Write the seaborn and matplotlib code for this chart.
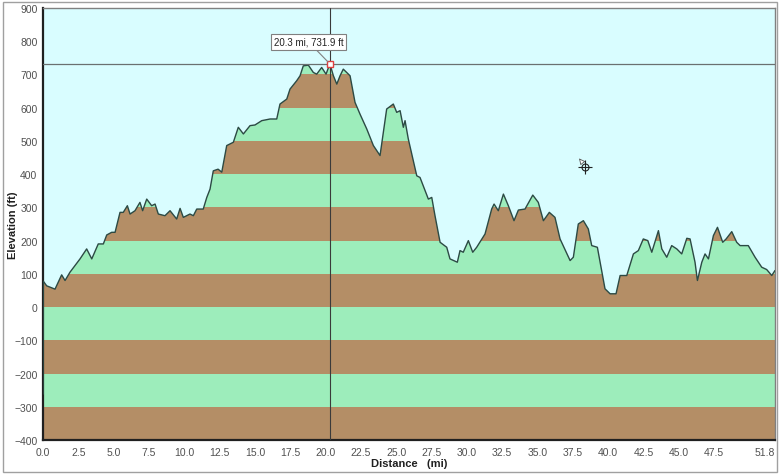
import numpy as np
import pandas as pd
import matplotlib
matplotlib.use("Agg")
import matplotlib.pyplot as plt
import seaborn as sns
from matplotlib.patches import Rectangle

# elevation profile
distance_mi = [
    0.0, 0.02, 0.26, 0.85, 1.32, 1.56, 1.91, 2.62, 3.09, 3.45, 3.91, 4.27, 4.51, 4.86,
    5.10, 5.45, 5.68, 5.97, 6.16, 6.51, 6.86, 7.05, 7.34, 7.69, 7.93, 8.16, 8.63, 8.99,
    9.46, 9.70, 9.93, 10.40, 10.64, 10.88, 11.34, 11.59, 11.82, 12.05, 12.39, 12.65,
    13.00, 13.47, 13.82, 14.18, 14.65, 15.00, 15.48, 16.07, 16.54, 16.77, 17.25, 17.48,
    17.95, 18.19, 18.42, 18.78, 19.13, 19.37, 19.72, 20.03, 20.30, 20.55, 20.79, 21.02,
    21.25, 21.49, 21.73, 22.08, 22.43, 22.91, 23.38, 23.85, 24.32, 24.79, 25.03, 25.27,
    25.50, 25.62, 25.85, 26.45, 26.68, 27.27, 27.51, 27.74, 28.10, 28.57, 28.80, 29.32,
    29.51, 29.74, 30.10, 30.41, 30.69, 31.28, 31.75, 31.92, 32.22, 32.58, 32.93, 33.33,
    33.64, 34.11, 34.66, 35.05, 35.41, 35.83, 36.23, 36.59, 37.30, 37.53, 37.88, 38.24,
    38.59, 38.83, 39.23, 39.47, 39.77, 40.13, 40.55, 40.84, 41.31, 41.78, 42.13, 42.48,
    42.80, 43.08, 43.55, 43.79, 44.14, 44.49, 44.85, 45.20, 45.56, 45.79, 46.14, 46.31,
    46.62, 46.85, 47.09, 47.44, 47.73, 48.10, 48.34, 48.74, 49.09, 49.33, 49.91, 50.39,
    50.86, 51.21, 51.57, 51.80,
]
elevation_ft = [
    -262, 78, 64, 54, 97, 80, 105, 145, 175, 145, 190, 190, 217, 225,
    225, 285, 285, 305, 280, 290, 315, 290, 325, 305, 310, 280, 275, 290,
    265, 297, 270, 280, 275, 295, 295, 330, 355, 410, 415, 406,
    486, 496, 541, 521, 546, 548, 561, 566, 566, 611, 626, 656,
    681, 696, 726, 728, 706, 701, 721, 701, 731.9, 696, 671, 696,
    716, 706, 696, 616, 581, 536, 486, 456, 596, 611, 586, 591,
    541, 561, 506, 395, 390, 325, 330, 275, 195, 180, 145, 135,
    170, 165, 200, 165, 180, 220, 295, 310, 290, 340, 305, 260,
    292, 295, 337, 315, 260, 285, 270, 205, 140, 150, 250, 260,
    235, 185, 180, 125, 55, 40, 40, 95, 95, 160, 170, 205,
    200, 165, 230, 175, 150, 185, 175, 160, 207, 205, 135, 80,
    135, 160, 145, 215, 240, 195, 205, 227, 195, 185, 185, 150,
    120, 113, 95, 110,
]

x_ticks = [0.0, 2.5, 5.0, 7.5, 10.0, 12.5, 15.0, 17.5, 20.0, 22.5, 25.0, 27.5,
           30.0, 32.5, 35.0, 37.5, 40.0, 42.5, 45.0, 47.5, 51.8]
y_ticks = list(range(-400, 901, 100))

cursor_mi, cursor_ft = 20.3, 731.9
pointer_mi, pointer_ft = 38.36, 422

df = pd.DataFrame({"distance": distance_mi, "elevation": elevation_ft})

sns.set_style("white")
plt.rcParams["font.family"] = ["Liberation Sans", "DejaVu Sans"]

fig = plt.figure(figsize=(7.8, 4.77), dpi=100, facecolor="white")
ax = fig.add_axes([43 / 780, 1 - 441 / 477, 732 / 780, 432 / 477])
ax.set_facecolor("#D9FDFF")

brown = "#B48E66"
green = "#9DEDBB"

# area under the profile, used to clip the stripes
under = ax.fill_between(df["distance"], df["elevation"], -400,
                        facecolor="none", edgecolor="none")
clip = under.get_paths()[0]
for lo in range(-400, 900, 100):
    band = ax.axhspan(lo, lo + 100, color=brown if (lo // 100) % 2 == 0 else green,
                      lw=0, zorder=1)
    band.set_clip_path(clip, ax.transData)

sns.lineplot(data=df, x="distance", y="elevation", ax=ax, color="#2C4A44",
             lw=1.0, zorder=3, sort=False)

# crosshair at the picked point
ax.axvline(cursor_mi, color="#3A3A3A", lw=0.8, zorder=4)
ax.axhline(cursor_ft, color="#6A7070", lw=0.9, zorder=4)
ax.plot(cursor_mi, cursor_ft, marker="s", ms=4.5, mfc="white", mec="#E04040",
        mew=1.0, zorder=6)
ax.annotate(f"{cursor_mi} mi, {cursor_ft} ft", xy=(cursor_mi, cursor_ft),
            xytext=(-15.5, 16), textcoords="offset points", ha="center", va="center",
            fontsize=7, color="#222222", zorder=7,
            bbox=dict(boxstyle="square,pad=0.3", fc="white", ec="#808080", lw=0.8),
            arrowprops=dict(arrowstyle="-", color="#808080", lw=0.8,
                            shrinkA=0, shrinkB=2))

# mouse pointer left in the screenshot
ax.plot(pointer_mi, pointer_ft, marker="o", ms=5, mfc="none", mec="#222222",
        mew=0.8, zorder=6)
ax.plot(pointer_mi, pointer_ft, marker="+", ms=10, mec="#222222", mew=0.8, zorder=6)
ax.annotate("", xy=(pointer_mi - 0.55, pointer_ft + 32),
            xytext=(pointer_mi - 0.1, pointer_ft + 8),
            arrowprops=dict(arrowstyle="-|>", color="#555555", lw=0.6,
                            fc="white", mutation_scale=9), zorder=6)

ax.set_xlim(0, 51.8)
ax.set_ylim(-400, 900)
ax.set_xticks(x_ticks)
ax.set_xticklabels([f"{t:.1f}" for t in x_ticks])
ax.get_xticklabels()[-1].set_horizontalalignment("right")
ax.set_yticks(y_ticks)
ax.tick_params(axis="both", direction="out", length=3, width=1, labelsize=7.5,
               labelcolor="#505050", color="#303030", pad=2)
ax.tick_params(axis="y", pad=1)
for side in ["left", "bottom"]:
    ax.spines[side].set_color("#202020")
    ax.spines[side].set_linewidth(1.6)
for side in ["top", "right"]:
    ax.spines[side].set_color("#808080")
    ax.spines[side].set_linewidth(1.0)

ax.set_xlabel("Distance   (mi)", fontsize=8, fontweight="bold", color="#202020",
              labelpad=1)
ax.set_ylabel("Elevation (ft)", fontsize=8, fontweight="bold", color="#202020")
ax.yaxis.set_label_coords(-25 / 732, 0.5)

fig.patches.append(Rectangle((3 / 780, 4 / 477), 774 / 780, 470 / 477,
                             transform=fig.transFigure, fill=False,
                             ec="#A0A0A0", lw=1.0))

fig.savefig("out.png", dpi=100, facecolor=fig.get_facecolor())
